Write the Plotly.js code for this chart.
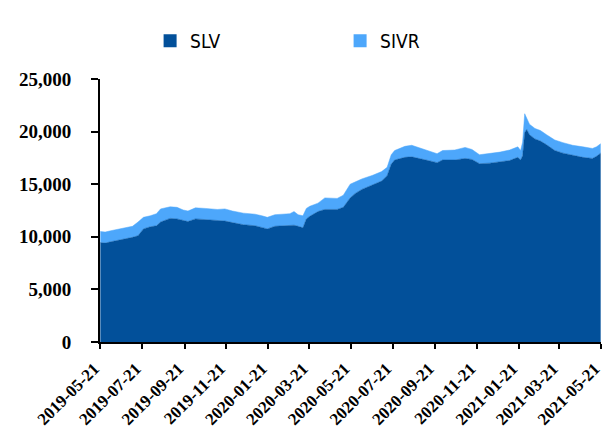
<!DOCTYPE html>
<html>
<head>
<meta charset="utf-8">
<script src="https://cdn.plot.ly/plotly-3.0.1.min.js"></script>
<style>html,body{margin:0;padding:0;background:#fff;}#chart{width:607px;height:437px;}</style>
</head>
<body>
<div id="chart"></div>
<script>
var dates = ['2019-05-21','2019-05-28','2019-06-07','2019-06-24','2019-07-07','2019-07-15','2019-07-23','2019-08-02','2019-08-11','2019-08-17','2019-08-31','2019-09-10','2019-09-19','2019-09-26','2019-10-07','2019-10-21','2019-11-08','2019-11-19','2019-11-30','2019-12-16','2020-01-02','2020-01-12','2020-01-20','2020-01-31','2020-02-15','2020-02-22','2020-02-28','2020-03-05','2020-03-12','2020-03-17','2020-03-22','2020-04-03','2020-04-13','2020-05-01','2020-05-10','2020-05-20','2020-05-27','2020-06-06','2020-06-22','2020-07-05','2020-07-13','2020-07-19','2020-07-24','2020-08-08','2020-08-18','2020-08-30','2020-09-11','2020-09-24','2020-10-02','2020-10-20','2020-11-04','2020-11-14','2020-11-25','2020-12-10','2020-12-25','2021-01-08','2021-01-20','2021-01-24','2021-01-27','2021-01-30','2021-02-02','2021-02-06','2021-02-14','2021-02-22','2021-03-03','2021-03-15','2021-03-27','2021-04-10','2021-04-25','2021-05-09','2021-05-15','2021-05-21'];

var slv = [9450,9400,9550,9750,9950,10100,10750,10950,11050,11400,11750,11700,11550,11450,11700,11650,11550,11500,11350,11150,11050,10900,10750,11000,11050,11050,11100,11000,10850,11700,11950,12400,12600,12600,12800,13700,14100,14500,14900,15300,15800,16900,17300,17550,17600,17450,17250,17050,17300,17300,17450,17350,16950,17000,17150,17250,17550,17300,17700,19900,20200,19700,19300,19100,18750,18200,17950,17750,17550,17450,17650,17950];

var sivr = [1050,1050,1050,1050,1050,1300,1100,1050,1150,1250,1100,1100,1000,1000,1050,1050,1050,1150,1100,1100,1100,1100,1100,1100,1100,1150,1300,1100,1150,1000,950,800,1100,1050,1150,1300,1100,1000,950,900,800,900,900,1050,1100,1000,950,850,900,950,1050,950,850,900,900,1000,1000,900,1300,1800,1100,1000,1000,1000,950,1000,1000,950,1000,950,900,900];

var tickDates = ['2019-05-21','2019-07-21','2019-09-21','2019-11-21','2020-01-21','2020-03-21','2020-05-21','2020-07-21','2020-09-21','2020-11-21','2021-01-21','2021-03-21','2021-05-21'];
var yTicks = [0,5000,10000,15000,20000,25000];

var darkBlue = '#02509A';
var lightBlue = '#4DA7FB';

var traces = [
  {x: dates, y: slv, name: 'SLV', type: 'scatter', mode: 'lines', stackgroup: 'one',
   line: {width: 0.5, color: darkBlue}, fillcolor: darkBlue, showlegend: false},
  {x: dates, y: sivr, name: 'SIVR', type: 'scatter', mode: 'lines', stackgroup: 'one',
   line: {width: 0.5, color: lightBlue}, fillcolor: lightBlue, showlegend: false},
  {x: [null], y: [null], name: 'SLV', type: 'scatter', mode: 'markers',
   marker: {symbol: 'square', size: 13, color: darkBlue}, showlegend: true},
  {x: [null], y: [null], name: 'SIVR', type: 'scatter', mode: 'markers',
   marker: {symbol: 'square', size: 13, color: lightBlue}, showlegend: true}
];

var layout = {
  width: 607, height: 437,
  margin: {l: 100, r: 6, t: 79, b: 95},
  paper_bgcolor: '#fff', plot_bgcolor: '#fff',
  showlegend: true,
  legend: {orientation: 'h', traceorder: 'normal', x: 0.1, xanchor: 'left', y: 1.145, yanchor: 'middle',
           entrywidth: 145, entrywidthmode: 'pixels', itemwidth: 30,
           font: {family: 'Liberation Sans Narrow, DejaVu Sans Condensed, sans-serif', size: 19, color: '#000'},
           bgcolor: 'rgba(0,0,0,0)'},
  xaxis: {
    type: 'date', range: ['2019-05-20 12:00', '2021-05-21 12:00'],
    tickmode: 'array', tickvals: tickDates, ticktext: tickDates,
    tickangle: -45,
    tickfont: {family: 'Liberation Serif, Times New Roman, serif', size: 17, color: '#000', weight: 'bold'},
    showline: true, linecolor: '#000', linewidth: 2,
    ticks: 'outside', ticklen: 5, tickwidth: 2, tickcolor: '#000',
    ticklabelstandoff: 3, ticklabelshift: -6, ticklabeloverflow: 'allow',
    showgrid: false, zeroline: false, fixedrange: true
  },
  yaxis: {
    range: [0, 25000], tickmode: 'array', tickvals: yTicks,
    ticktext: yTicks.map(function(v){return v.toLocaleString('en-US');}),
    tickfont: {family: 'Liberation Serif, Times New Roman, serif', size: 19, color: '#000', weight: 'bold'},
    showline: true, linecolor: '#000', linewidth: 2,
    ticks: 'outside', ticklen: 7, tickwidth: 2, tickcolor: '#000',
    ticklabelstandoff: 16,
    showgrid: false, zeroline: false, fixedrange: true
  }
};

Plotly.newPlot('chart', traces, layout, {displayModeBar: false, staticPlot: true});
</script>
</body>
</html>
